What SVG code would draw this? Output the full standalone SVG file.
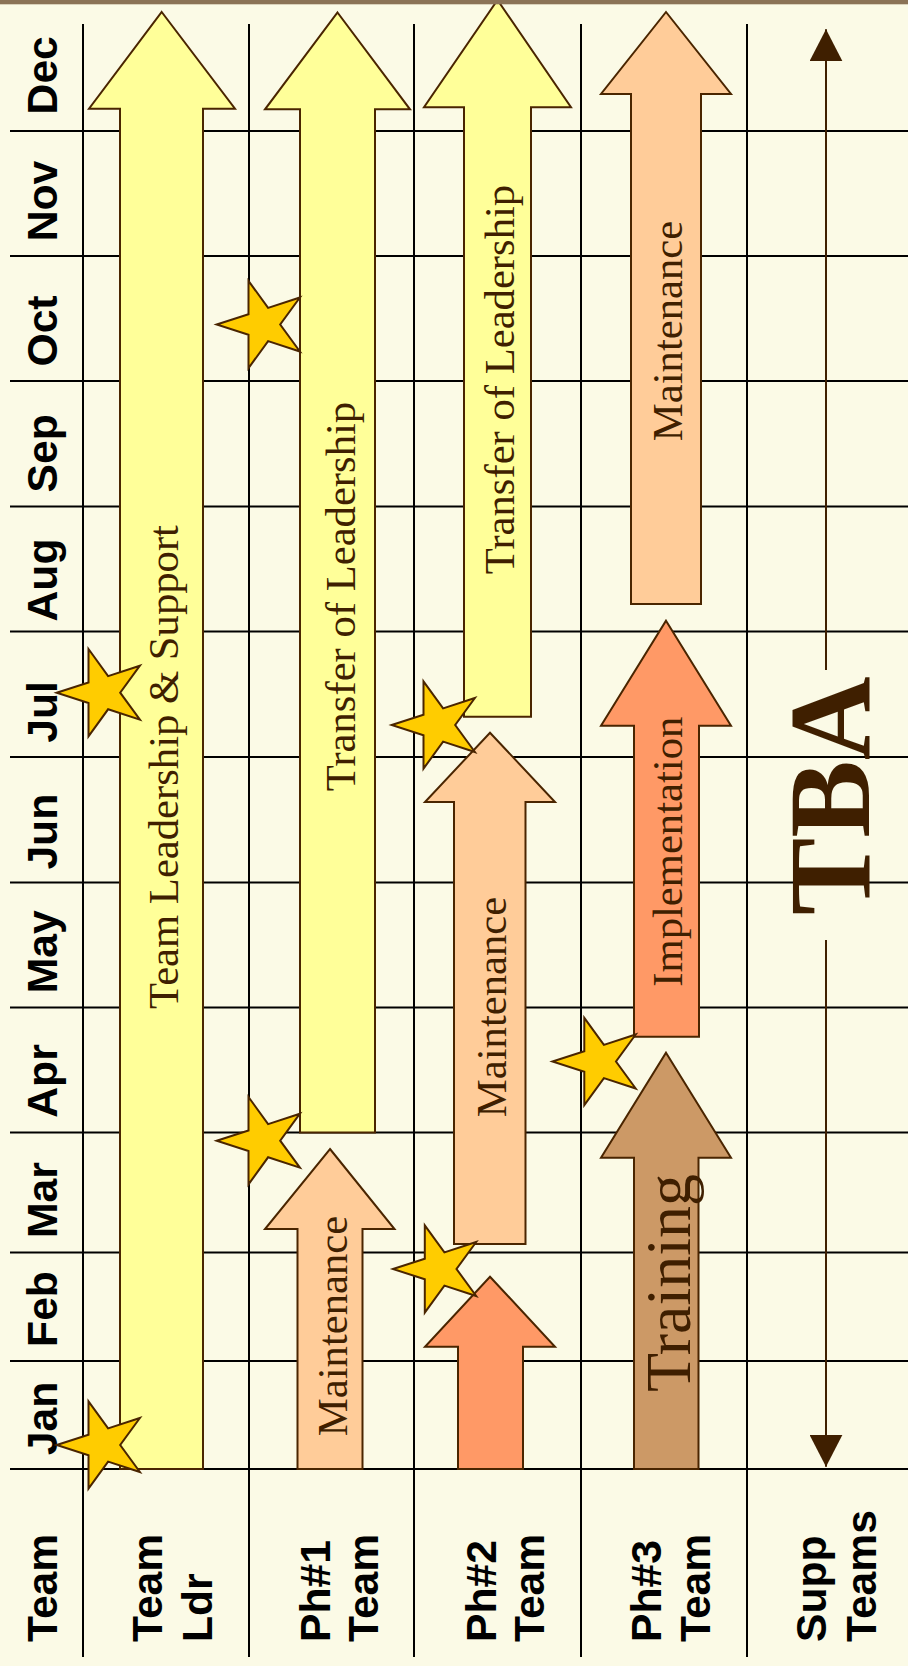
<svg xmlns="http://www.w3.org/2000/svg" xmlns:xlink="http://www.w3.org/1999/xlink" width="908" height="1666" viewBox="0 0 908 1666">
<style>
.grid line{stroke:#000;stroke-width:2}
.hdr{font-family:"Liberation Sans",Arial,sans-serif;font-weight:bold;font-size:42.67px;fill:#000}
.arr{stroke:#4A2500;stroke-width:2;stroke-linejoin:miter}
.yel{fill:#FFFF99}.pch{fill:#FFCC99}.sal{fill:#FF9966}.tan{fill:#CC9966}
.lbl{font-family:"Liberation Serif","Times New Roman",serif;font-size:42.67px;fill:#3F1F00;text-anchor:middle}
.big{font-size:64px}
.star{fill:#FFCC00;stroke:#4A2500;stroke-width:2}
</style>
<defs>
<polygon id="star" points="-46,0 -14.2,-10.3 -14.2,-43.7 5.4,-16.6 37.2,-27 17.5,0 37.2,27 5.4,16.6 -14.2,43.7 -14.2,10.3"/>
<marker id="ah" viewBox="0 0 32 33" refX="32" refY="16.5" markerWidth="32" markerHeight="33" markerUnits="userSpaceOnUse" orient="auto-start-reverse">
<path d="M0 0 L32 16.5 L0 33 z" fill="#3F1F00"/>
</marker>
</defs>
<rect width="908" height="1666" fill="#FBFAE6"/>
<g id="grid" class="grid">
<line x1="10" y1="131" x2="908" y2="131"/>
<line x1="10" y1="256" x2="908" y2="256"/>
<line x1="10" y1="381" x2="908" y2="381"/>
<line x1="10" y1="506.5" x2="908" y2="506.5"/>
<line x1="10" y1="631.5" x2="908" y2="631.5"/>
<line x1="10" y1="757" x2="908" y2="757"/>
<line x1="10" y1="882.5" x2="908" y2="882.5"/>
<line x1="10" y1="1007.5" x2="908" y2="1007.5"/>
<line x1="10" y1="1132.5" x2="908" y2="1132.5"/>
<line x1="10" y1="1252.5" x2="908" y2="1252.5"/>
<line x1="10" y1="1361" x2="908" y2="1361"/>
<line x1="10" y1="1469" x2="908" y2="1469"/>
<line x1="83" y1="24" x2="83" y2="1657"/>
<line x1="249" y1="24" x2="249" y2="1657"/>
<line x1="414" y1="24" x2="414" y2="1657"/>
<line x1="581" y1="24" x2="581" y2="1657"/>
<line x1="747" y1="24" x2="747" y2="1657"/>
</g>
<g id="months" class="hdr" text-anchor="middle">
<text transform="translate(57,75.3) rotate(-90)">Dec</text>
<text transform="translate(57,201) rotate(-90)">Nov</text>
<text transform="translate(57,331) rotate(-90)">Oct</text>
<text transform="translate(57,453.3) rotate(-90)">Sep</text>
<text transform="translate(57,580) rotate(-90)">Aug</text>
<text transform="translate(57,712) rotate(-90)">Jul</text>
<text transform="translate(57,831.7) rotate(-90)">Jun</text>
<text transform="translate(57,951.7) rotate(-90)">May</text>
<text transform="translate(57,1081) rotate(-90)">Apr</text>
<text transform="translate(57,1200) rotate(-90)">Mar</text>
<text transform="translate(57,1309) rotate(-90)">Feb</text>
<text transform="translate(57,1418.5) rotate(-90)">Jan</text>
</g>
<g id="teams" class="hdr">
<text transform="translate(57,1642) rotate(-90)">Team</text>
<text transform="translate(162,1642) rotate(-90)">Team</text>
<text transform="translate(212,1642) rotate(-90)">Ldr</text>
<text transform="translate(330,1642) rotate(-90)">Ph#1</text>
<text transform="translate(378,1642) rotate(-90)">Team</text>
<text transform="translate(496,1642) rotate(-90)">Ph#2</text>
<text transform="translate(544,1642) rotate(-90)">Team</text>
<text transform="translate(661,1642) rotate(-90)">Ph#3</text>
<text transform="translate(710,1642) rotate(-90)">Team</text>
<text transform="translate(826,1642) rotate(-90)">Supp</text>
<text transform="translate(876,1642) rotate(-90)">Teams</text>
</g>
<g id="connectors">
<path d="M826 29.3 V670 M826 940 V1466.7" fill="none" stroke="#3F1F00" stroke-width="2" marker-start="url(#ah)" marker-end="url(#ah)"/>
</g>
<g id="tba">
<text transform="translate(869,795.8) rotate(-90)" text-anchor="middle" font-family="Liberation Serif,'Times New Roman',serif" font-weight="bold" font-size="116" fill="#3F1F00">TBA</text>
</g>
<g id="ldr-support">
<polygon class="arr yel" points="161.7,12 235,108.7 203,108.7 203,1469 120,1469 120,108.7 89,108.7"/>
<text class="lbl" transform="translate(178,767) rotate(-90)">Team Leadership &amp; Support</text>
</g>
<g id="ph1-transfer">
<polygon class="arr yel" points="337.5,12.5 410,109.3 375,109.3 375,1132.5 300,1132.5 300,109.3 265,109.3"/>
<text class="lbl" transform="translate(355,596.5) rotate(-90)">Transfer of Leadership</text>
</g>
<g id="ph2-transfer">
<polygon class="arr yel" points="497.5,0 571,107.3 531,107.3 531,716.7 464,716.7 464,107.3 424,107.3"/>
<text class="lbl" transform="translate(514,379.5) rotate(-90)">Transfer of Leadership</text>
</g>
<g id="ph3-maintenance">
<polygon class="arr pch" points="666,12 731,94 701,94 701,604 631,604 631,94 601,94"/>
<text class="lbl" transform="translate(682.3,331) rotate(-90)">Maintenance</text>
</g>
<g id="ph1-maintenance">
<polygon class="arr pch" points="330,1149 394.5,1229 362.5,1229 362.5,1469 297.5,1469 297.5,1229 265,1229"/>
<text class="lbl" transform="translate(346.7,1326) rotate(-90)">Maintenance</text>
</g>
<g id="ph2-maintenance">
<polygon class="arr pch" points="490,732.7 555,802 525.5,802 525.5,1244 454,1244 454,802 425,802"/>
<text class="lbl" transform="translate(506.3,1007) rotate(-90)">Maintenance</text>
</g>
<g id="ph2-start">
<polygon class="arr sal" points="490,1276.7 555,1346.7 523,1346.7 523,1469 458,1469 458,1346.7 425,1346.7"/>
</g>
<g id="ph3-implementation">
<polygon class="arr sal" points="666,620.7 731,725.7 699,725.7 699,1036.7 634,1036.7 634,725.7 601,725.7"/>
<text class="lbl" transform="translate(682.3,851.7) rotate(-90)">Implementation</text>
</g>
<g id="ph3-training">
<polygon class="arr tan" points="666,1052.7 731,1157.7 698.5,1157.7 698.5,1469 634,1469 634,1157.7 601,1157.7"/>
<text class="lbl big" transform="translate(690,1283) rotate(-90)">Training</text>
</g>
<g id="stars" class="star">
<use xlink:href="#star" href="#star" transform="translate(102.7,1445)"/>
<use xlink:href="#star" href="#star" transform="translate(102.7,692.7)"/>
<use xlink:href="#star" href="#star" transform="translate(262.7,324.5)"/>
<use xlink:href="#star" href="#star" transform="translate(262.7,1140.7)"/>
<use xlink:href="#star" href="#star" transform="translate(437.7,725)"/>
<use xlink:href="#star" href="#star" transform="translate(439,1269)"/>
<use xlink:href="#star" href="#star" transform="translate(598.5,1061.5)"/>
</g>
<rect id="topbar" x="0" y="0" width="908" height="4.3" fill="#8B7357"/>
</svg>
